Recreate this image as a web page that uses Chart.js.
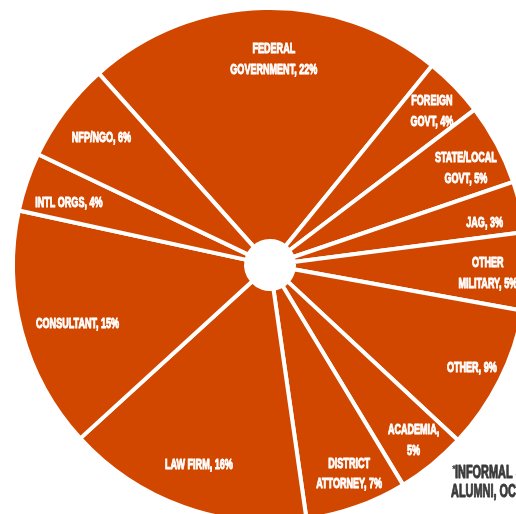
<!DOCTYPE html>
<html><head><meta charset="utf-8">
<script src="https://cdn.jsdelivr.net/npm/chart.js@4"></script>
<style>
html,body{margin:0;padding:0;overflow:hidden;background:#fff;width:516px;height:514px;}
#wrap{position:absolute;left:0;top:-5px;width:540px;height:540px;}
</style></head><body>
<div id="wrap"><canvas id="c"></canvas></div>
<script>
// ---- data ----
const categories = ["FEDERAL GOVERNMENT","FOREIGN GOVT","STATE/LOCAL GOVT","JAG","OTHER MILITARY","OTHER","ACADEMIA","DISTRICT ATTORNEY","LAW FIRM","CONSULTANT","INTL ORGS","NFP/NGO"];
const shares = [22.5,3.8,5.1,3.2,4.9,9.1,4.4,6.4,15.5,15.2,3.7,6.3];
const percentLabels = [22,4,5,3,5,9,5,7,16,15,4,6];
const labelLines = [["FEDERAL","GOVERNMENT"],["FOREIGN","GOVT"],["STATE/LOCAL","GOVT"],["JAG"],["OTHER","MILITARY"],["OTHER"],["ACADEMIA",""],["DISTRICT","ATTORNEY"],["LAW FIRM"],["CONSULTANT"],["INTL ORGS"],["NFP/NGO"]];
const footnoteLines = ["INFORMAL SURVEY OF","ALUMNI, OCTOBER"];

// ---- layout / style (not data) ----
const labelRadiusFactor = [0.805,0.872,0.852,0.852,0.848,0.88,0.878,0.864,0.821,0.782,0.821,0.825];
const labelAngleNudgeDeg = [2.4,0.3,1.5,1.7,0.5,0.2,-0.4,-1.2,0,-1.7,-1.3,0.5];
const ORANGE = "#D24700";
const FONT = "'Liberation Sans',Arial,sans-serif";

function buildLines(i){
  const l = labelLines[i].slice();
  const p = percentLabels[i] + "%";
  if (l[l.length-1] === "") { l[l.length-2] += ","; l[l.length-1] = p; }
  else l[l.length-1] += ", " + p;
  return l;
}

function drawCondensed(ctx, t, x, y, sx, color, sw){
  ctx.save();
  ctx.translate(x, y); ctx.scale(sx, 1);
  ctx.fillStyle = color; ctx.strokeStyle = color; ctx.lineWidth = sw; ctx.lineJoin = 'round';
  ctx.fillText(t, 0, 0);
  if (sw > 0) ctx.strokeText(t, 0, 0);
  ctx.restore();
}

const labelPlugin = {
  id: 'sliceLabels',
  afterDatasetsDraw(chart){
    const ctx = chart.ctx;
    const arcs = chart.getDatasetMeta(0).data;
    ctx.save();
    ctx.font = "bold 14.5px " + FONT;
    const SX = 87 / ctx.measureText("GOVERNMENT, 22%").width;
    ctx.textAlign = "center";
    ctx.textBaseline = "alphabetic";
    arcs.forEach((a, i) => {
      const {x, y, startAngle, endAngle, outerRadius} = a.getProps(['x','y','startAngle','endAngle','outerRadius'], true);
      const mid = (startAngle + endAngle) / 2 + labelAngleNudgeDeg[i] * Math.PI / 180;
      const r = outerRadius * labelRadiusFactor[i];
      const cx = x + Math.cos(mid) * r, cy = y + Math.sin(mid) * r;
      const lines = buildLines(i);
      const lh = 20.5;
      lines.forEach((t, k) => {
        const yy = cy + (k - (lines.length - 1) / 2) * lh + 5.3;
        drawCondensed(ctx, t, cx, yy, SX, "#ffffff", 1.0);
      });
    });
    // footnote
    const c = arcs[0];
    const fx = c.x + 181, fy = c.y + 213;
    ctx.textAlign = "left";
    ctx.font = "bold 17.5px " + FONT;
    drawCondensed(ctx, footnoteLines[0], fx + 4, fy, SX, "#3b3b3b", 1);
    drawCondensed(ctx, footnoteLines[1], fx, fy + 19, SX, "#3b3b3b", 1);
    ctx.font = "bold 10px " + FONT;
    drawCondensed(ctx, "*", fx + 1, fy - 5, 1, "#3b3b3b", 0);
    ctx.restore();
  }
};

new Chart(document.getElementById('c'), {
  type: 'doughnut',
  data: {
    labels: categories,
    datasets: [{
      data: shares,
      backgroundColor: ORANGE,
      borderColor: "#ffffff",
      borderWidth: 4,
      hoverOffset: 0
    }]
  },
  options: {
    responsive: true,
    maintainAspectRatio: false,
    animation: false,
    events: [],
    radius: 257,
    cutout: 25,
    rotation: -41.8,
    layout: { padding: 0 },
    plugins: { legend: { display: false }, tooltip: { enabled: false } }
  },
  plugins: [labelPlugin]
});
</script>
</body></html>
